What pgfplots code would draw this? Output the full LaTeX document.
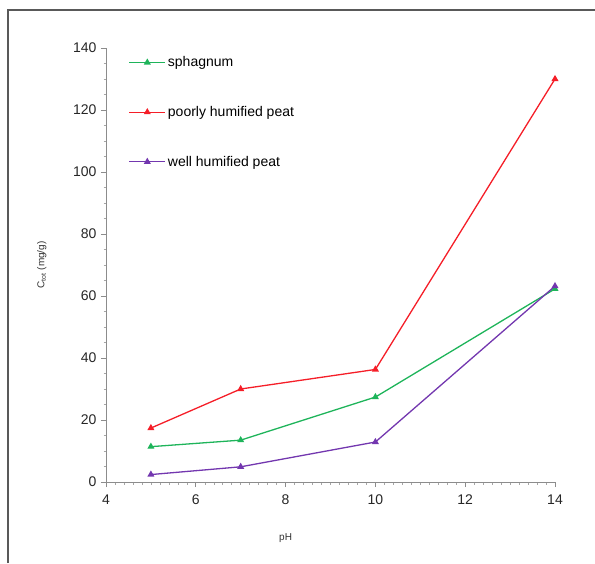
\documentclass[border=0pt]{standalone}
\usepackage{fontspec}
\setmainfont{Liberation Sans}
\usepackage{pgfplots}
\pgfplotsset{compat=1.18}
\definecolor{cgreen}{RGB}{30,180,90}
\definecolor{cred}{RGB}{245,30,40}
\definecolor{cpurple}{RGB}{115,55,175}
\begin{document}
\begin{tikzpicture}
\useasboundingbox (0pt,0pt) rectangle (595pt,563pt);
\draw[line width=2pt, black!65] (8pt,0pt) -- (8pt,553pt) -- (595pt,553pt);
\begin{axis}[
  at={(106pt,81pt)}, anchor=south west,
  scale only axis, width=449pt, height=434pt,
  xmin=4, xmax=14, ymin=0, ymax=140,
  xtick={4,6,...,14}, ytick={0,20,...,140},
  minor x tick num=9, minor y tick num=3,
  axis lines=left, axis line style={-, black!45, line width=0.8pt},
  major tick style={black!45, line width=0.8pt},
  minor tick style={black!35, line width=0.5pt},
  major tick length=5pt, minor tick length=2.5pt,
  tick align=outside,
  /pgf/number format/assume math mode=true,
  tick label style={font=\fontsize{14}{16}\selectfont, text=black!85},
  xticklabel style={yshift=-4pt},
  yticklabel style={xshift=-1pt},
  xlabel={pH},
  ylabel={C\textsubscript{tot} (mg/g)},
  label style={font=\fontsize{10}{12}\selectfont, text=black!80},
  xlabel style={at={(axis description cs:0.4,0)}, anchor=north, yshift=-48pt},
  ylabel style={at={(axis description cs:0,0.5)}, anchor=south, yshift=56pt},
  clip=false,
  legend cell align=left,
  legend style={at={(axis description cs:0.05,0.985)}, anchor=north west,
    draw=none, fill=none, font=\fontsize{14}{16}\selectfont,
    row sep=34pt, inner sep=0pt},
  legend image code/.code={\draw[mark repeat=2,mark phase=2,#1] plot coordinates {(0pt,0pt) (18pt,0pt) (36pt,0pt)};},
  every axis plot/.append style={line width=1.3pt, mark=triangle*, mark size=2.8pt},
]
\addplot[cgreen, mark options={fill=cgreen}] coordinates {(5,11.4) (7,13.5) (10,27.4) (14,62.3)};
\addlegendentry{sphagnum}
\addplot[cred, mark options={fill=cred}] coordinates {(5,17.4) (7,30) (10,36.3) (14,130)};
\addlegendentry{poorly humified peat}
\addplot[cpurple, mark options={fill=cpurple}] coordinates {(5,2.4) (7,4.9) (10,12.9) (14,63.2)};
\addlegendentry{well humified peat}
\end{axis}
\end{tikzpicture}
\end{document}
